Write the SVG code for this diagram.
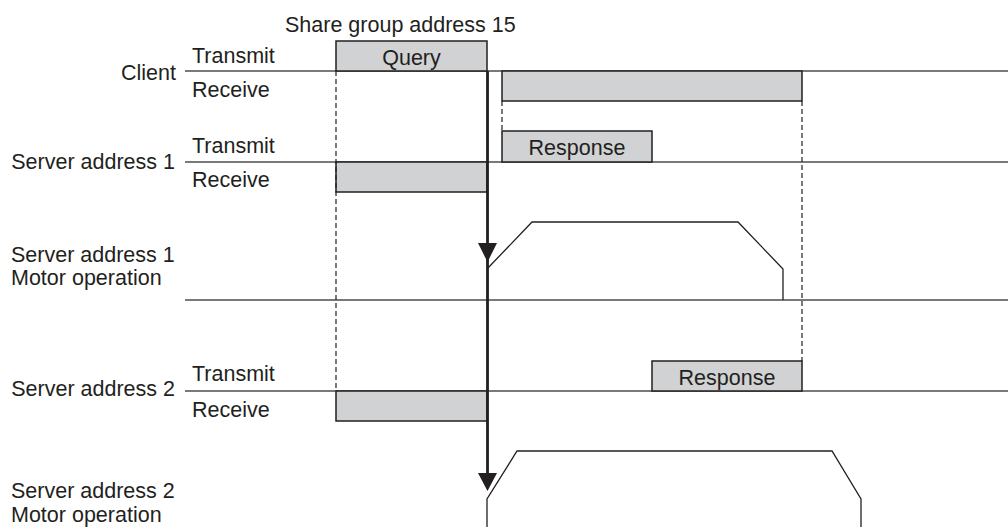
<svg xmlns="http://www.w3.org/2000/svg" width="1008" height="527" viewBox="0 0 1008 527">
<style>
text{font-family:"Liberation Sans",Arial,sans-serif;font-size:21.5px;fill:#231f20}
.mid{text-anchor:middle}
.end{text-anchor:end}
.axis{stroke:#4d4d4f;stroke-width:1.6;fill:none}
.box{fill:#d1d2d4;stroke:#231f20;stroke-width:1.5}
.dash{stroke:#231f20;stroke-width:1.2;stroke-dasharray:5 3;fill:none}
.prof{stroke:#231f20;stroke-width:1.3;fill:none}
.trig{stroke:#231f20;stroke-width:2.8;fill:none}
.head{fill:#231f20}
</style>
<g id="title"><text x="285" y="32">Share group address 15</text></g>
<g id="client">
<text class="end" x="176" y="80">Client</text>
<text x="192" y="63">Transmit</text>
<text x="192" y="97">Receive</text>
<line class="axis" x1="185" y1="71" x2="1008" y2="71"/>
<rect class="box" x="336" y="41" width="151" height="30"/>
<text class="mid" x="411.5" y="65">Query</text>
<rect class="box" x="502" y="71" width="300" height="30"/>
</g>
<g id="server1">
<text class="end" x="175" y="169">Server address 1</text>
<text x="192" y="153">Transmit</text>
<text x="192" y="187">Receive</text>
<line class="axis" x1="185" y1="162" x2="1008" y2="162"/>
<rect class="box" x="336" y="162" width="151" height="30"/>
<rect class="box" x="502" y="131" width="150" height="31"/>
<text class="mid" x="577" y="155">Response</text>
</g>
<g id="motor1">
<text x="11" y="262">Server address 1</text>
<text x="11" y="285">Motor operation</text>
<line class="axis" x1="185" y1="300" x2="1008" y2="300"/>
<polyline class="prof" points="487,269 532,222 738,222 783,269 783,300"/>
</g>
<g id="server2">
<text class="end" x="175" y="396">Server address 2</text>
<text x="192" y="381">Transmit</text>
<text x="192" y="417">Receive</text>
<line class="axis" x1="185" y1="391" x2="1008" y2="391"/>
<rect class="box" x="336" y="391" width="151" height="30"/>
<rect class="box" x="652" y="361" width="150" height="30"/>
<text class="mid" x="727" y="385">Response</text>
</g>
<g id="motor2">
<text x="11" y="498">Server address 2</text>
<text x="11" y="522">Motor operation</text>
<polyline class="prof" points="487,527 487,499 517,451 832,451 861,499 861,527"/>
</g>
<g id="connectors">
<line class="dash" x1="336" y1="71" x2="336" y2="391"/>
<line class="dash" x1="502" y1="101" x2="502" y2="131"/>
<line class="dash" x1="802" y1="101" x2="802" y2="361"/>
<line class="trig" x1="487.5" y1="71" x2="487.5" y2="488"/>
<polygon class="head" points="478,243 497,243 487.5,262"/>
<polygon class="head" points="478,473 497,473 487.5,491"/>
</g>
</svg>
